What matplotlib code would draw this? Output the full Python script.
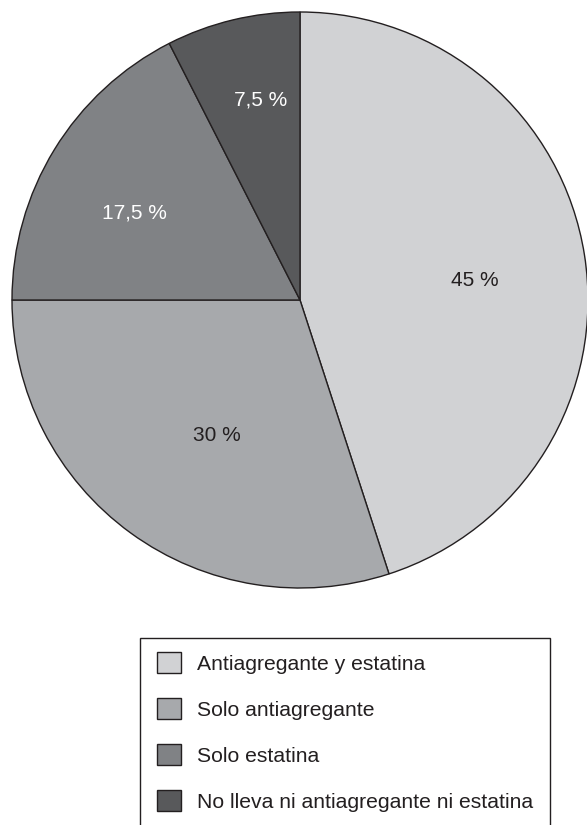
import matplotlib
matplotlib.use("Agg")
import matplotlib.pyplot as plt
from matplotlib.patches import Rectangle

plt.rcParams['font.family'] = ['Liberation Sans', 'DejaVu Sans']

categories = [
    "Antiagregante y estatina",
    "Solo antiagregante",
    "Solo estatina",
    "No lleva ni antiagregante ni estatina",
]
shares = [45, 30, 17.5, 7.5]

colors = ["#d1d2d4", "#a7a9ac", "#808285", "#58595b"]
text_colors = ["#231f20", "#231f20", "white", "white"]
# label anchor points inside each wedge (axes data units, pie radius = 1)
label_pos = [(0.606, 0.069), (-0.289, -0.469), (-0.576, 0.302), (-0.135, 0.694)]

W, H = 587, 825
fig = plt.figure(figsize=(W / 100, H / 100), dpi=100)

cx, cy, r = 300, 300, 288
ax = fig.add_axes([(cx - r) / W, (H - cy - r) / H, 2 * r / W, 2 * r / H])
wedges, _ = ax.pie(
    shares,
    colors=colors,
    startangle=90,
    counterclock=False,
    radius=1,
    wedgeprops=dict(edgecolor="#231f20", linewidth=1.0),
)
ax.set_xlim(-1, 1)
ax.set_ylim(-1, 1)
ax.set_aspect("equal")
ax.axis("off")

for val, (x, y), tc in zip(shares, label_pos, text_colors):
    txt = (f"{val:g}").replace(".", ",") + " %"
    ax.text(x, y, txt, ha="center", va="center", fontsize=15, color=tc)

# legend box, open at the bottom edge of the figure
lx0, ly0, lx1 = 140, 638, 550
fig.patches.append(Rectangle((lx0 / W, -0.05), (lx1 - lx0) / W, (H - ly0) / H + 0.05,
                             transform=fig.transFigure, fill=False,
                             edgecolor="#231f20", linewidth=1.0))

fs = 15.2
leg = fig.legend(
    wedges, categories,
    loc="upper left",
    bbox_to_anchor=(157 / W, (H - 652) / H),
    frameon=False,
    fontsize=fs,
    handlelength=1.14,
    handleheight=1.14,
    handletextpad=0.76,
    labelspacing=1.16,
    borderpad=0,
    borderaxespad=0,
)
for t in leg.get_texts():
    t.set_color("#231f20")

fig.savefig("out.png", dpi=100)
